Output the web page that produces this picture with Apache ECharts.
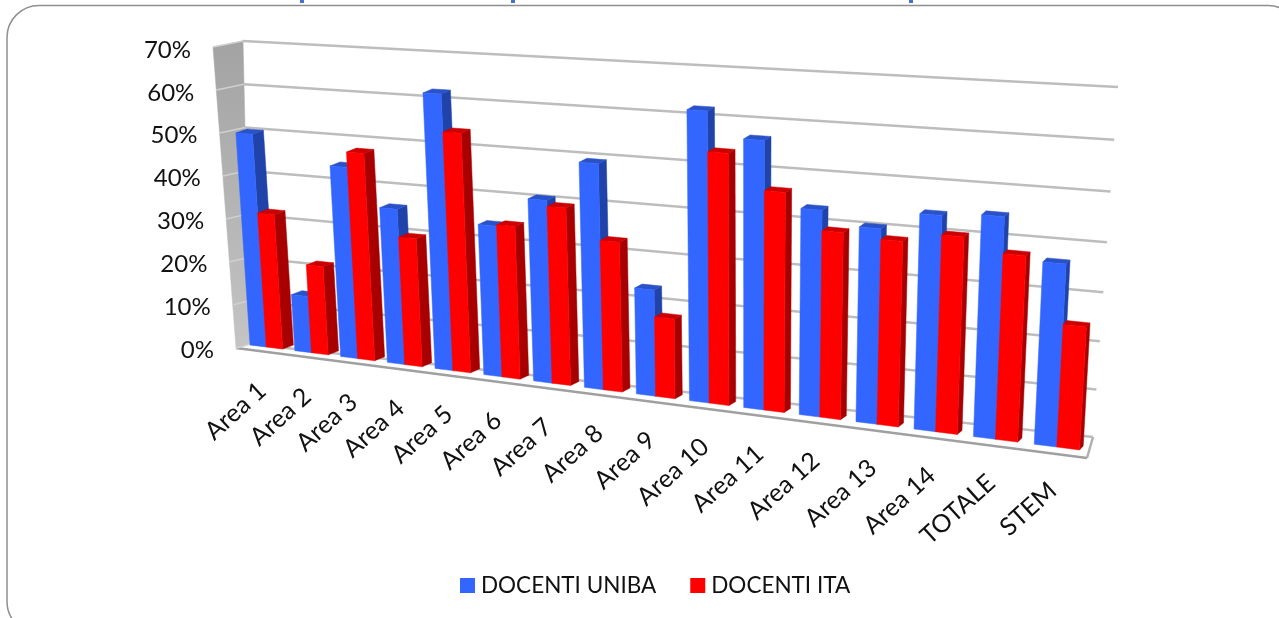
<!DOCTYPE html>
<html>
<head>
<meta charset="utf-8">
<style>
  html, body { margin: 0; padding: 0; background: #fff; }
  #main { width: 1279px; height: 618px; }
</style>
</head>
<body>
<div id="main"></div>
<script src="https://cdn.jsdelivr.net/npm/echarts@6/dist/echarts.min.js"></script>
<script>
var categories = ['Area 1', 'Area 2', 'Area 3', 'Area 4', 'Area 5', 'Area 6', 'Area 7', 'Area 8', 'Area 9',
    'Area 10', 'Area 11', 'Area 12', 'Area 13', 'Area 14', 'TOTALE', 'STEM'];
var docentiUniba = [49.7, 13.0, 43.8, 35.2, 62.1, 33.5, 40.2, 49.2, 22.9, 62.3, 56.9, 43.2, 40.4, 44.2, 45.0, 36.6];
var docentiIta = [31.3, 20.3, 47.3, 28.9, 53.6, 33.8, 38.9, 32.5, 17.1, 53.6, 46.3, 38.9, 38.2, 40.2, 37.5, 24.5];
var yTicks = [0, 10, 20, 30, 40, 50, 60, 70];

// hidden grid: the scales live here, then everything is warped on to the slanted planes
var GRID = {left: 100, top: 100, width: 800, height: 350};
var FONT = '"Lato", "Liberation Sans", sans-serif';

// planes of the fake 3d box
var barPlane = {bl: [244, 344.2], br: [1088, 451], tl: [224, 46], tr: [1108, 99]};
var backWall = {bl: [250, 344], br: [1093, 437], tl: [243, 41], tr: [1118, 87]};
var sideEdge = {bl: [236, 348], tl: [213, 47]};
var labelEdge = {bl: [214, 350], tl: [191, 50]};
var floorFront = [[236, 348], [1087, 458]];
var PERSP = 0.84;
var TOP_PERSP = 0.825;
var WALL_PERSP = 0.94;
var BAR_W = 0.365;

function lerp(a, b, t) {
    return [a[0] + (b[0] - a[0]) * t, a[1] + (b[1] - a[1]) * t];
}

function persp(u, k) {
    return k * u / (1 + (k - 1) * u);
}

// grid pixel -> normalised position
function norm(p) {
    return [(p[0] - GRID.left) / GRID.width, (GRID.top + GRID.height - p[1]) / GRID.height];
}

function warp(plane, u, v) {
    var bottom = lerp(plane.bl, plane.br, persp(u, PERSP));
    var top = lerp(plane.tl, plane.tr, persp(u, TOP_PERSP));
    return lerp(bottom, top, v);
}

function depthAt(u) {
    return [11 + (3.5 - 11) * persp(u, PERSP), -4];
}

function shift(p, d) {
    return [p[0] + d[0], p[1] + d[1]];
}

function poly(points, fill) {
    return {type: 'polygon', shape: {points: points}, style: {fill: fill, stroke: fill, lineWidth: 0.5}};
}

function line(a, b, color, width) {
    return {
        type: 'line',
        shape: {x1: a[0], y1: a[1], x2: b[0], y2: b[1]},
        style: {stroke: color, lineWidth: width}
    };
}

// blue bar left of the band centre, red one right of it
function barRenderer(offset, front, side, top) {
    return function (params, api) {
        var p = norm(api.coord([api.value(0), api.value(1)]));
        var band = api.size([1, 0])[0] / GRID.width;
        var uL = p[0] + offset * band;
        var uR = uL + BAR_W * band;
        var v = p[1];
        var d = depthAt((uL + uR) / 2);
        var a = warp(barPlane, uL, 0), b = warp(barPlane, uR, 0);
        var c = warp(barPlane, uR, v), e = warp(barPlane, uL, v);
        return {
            type: 'group',
            children: [
                poly([b, shift(b, d), shift(c, d), c], side),
                poly([e, c, shift(c, d), shift(e, d)], top),
                poly([a, b, c, e], front)
            ]
        };
    };
}

function renderWalls() {
    return {
        type: 'group',
        children: [
            poly([sideEdge.tl, backWall.tl, backWall.bl, sideEdge.bl], new echarts.graphic.LinearGradient(0, 0, 0, 1, [
                {offset: 0, color: '#a3a3a3'},
                {offset: 1, color: '#c4c4c4'}
            ])),
            line(floorFront[0], floorFront[1], '#a0a0a0', 2.5),
            line(floorFront[1], backWall.br, '#b0b0b0', 2.5),
            line(floorFront[0], backWall.bl, '#c8c8c8', 1.5)
        ]
    };
}

function renderGrid(params, api) {
    var v = norm(api.coord([0, api.value(1)]))[1];
    var a = lerp(backWall.bl, backWall.tl, v);
    var b = lerp(backWall.br, backWall.tr, persp(v, WALL_PERSP));
    var c = lerp(sideEdge.bl, sideEdge.tl, v);
    return {
        type: 'group',
        children: [
            line(c, a, '#d0d0d0', 1.5),
            line(a, b, '#bdbdbd', 2.5)
        ]
    };
}

function renderYLabel(params, api) {
    var v = norm(api.coord([0, api.value(1)]))[1];
    var p = lerp(labelEdge.bl, labelEdge.tl, v);
    return {
        type: 'text',
        x: p[0], y: p[1],
        style: {text: api.value(1) + '%', font: '24px ' + FONT, fill: '#111', align: 'right', verticalAlign: 'middle'}
    };
}

function renderXLabel(params, api) {
    var p = norm(api.coord([api.value(0), 0]));
    var base = warp(barPlane, p[0], 0);
    return {
        type: 'text',
        x: base[0] - 4, y: base[1] + 40,
        rotation: 42 * Math.PI / 180,
        style: {
            text: categories[params.dataIndex],
            font: '25px ' + FONT, fill: '#111', align: 'right', verticalAlign: 'middle'
        }
    };
}

function pairs(values) {
    return values.map(function (v, i) {
        return [i, v];
    });
}

function tickPairs() {
    return yTicks.map(function (v) {
        return [0, v];
    });
}

var chart = echarts.init(document.getElementById('main'));
chart.setOption({
    animation: false,
    backgroundColor: '#fff',
    graphic: [
        {type: 'rect', shape: {x: 7, y: 5.5, width: 1293, height: 628, r: 32}, style: {fill: 'none', stroke: '#8f8f8f', lineWidth: 1.5}, z: -5},
        {type: 'rect', shape: {x: 300, y: 0, width: 4, height: 3}, style: {fill: '#4472c4'}},
        {type: 'rect', shape: {x: 511, y: 0, width: 4, height: 3}, style: {fill: '#4472c4'}},
        {type: 'rect', shape: {x: 909, y: 0, width: 4, height: 3}, style: {fill: '#4472c4'}}
    ],
    legend: {
        data: ['DOCENTI UNIBA', 'DOCENTI ITA'],
        left: 455, top: 569,
        itemWidth: 15, itemHeight: 15, itemGap: 34,
        icon: 'rect',
        textStyle: {fontFamily: FONT, fontSize: 22.5, color: '#111', padding: [2, 0, 0, 1]}
    },
    grid: {left: GRID.left, top: GRID.top, width: GRID.width, height: GRID.height},
    xAxis: {type: 'category', data: categories, show: false},
    yAxis: {type: 'value', min: 0, max: 70, interval: 10, show: false},
    series: [
        {type: 'custom', name: 'walls', silent: true, clip: false, z: 1, data: [[0, 0]], renderItem: renderWalls},
        {type: 'custom', name: 'grid', silent: true, clip: false, z: 2, data: tickPairs(), renderItem: renderGrid},
        {type: 'custom', name: 'ylabels', silent: true, clip: false, z: 2, data: tickPairs(), renderItem: renderYLabel},
        {type: 'custom', name: 'xlabels', silent: true, clip: false, z: 2, data: pairs(categories.map(function () { return 0; })), renderItem: renderXLabel},
        {
            type: 'custom', name: 'DOCENTI UNIBA', silent: true, clip: false, z: 3,
            itemStyle: {color: '#3366ff'},
            data: pairs(docentiUniba),
            renderItem: barRenderer(-BAR_W, '#3366ff', '#1f43a8', '#2a52c8')
        },
        {
            type: 'custom', name: 'DOCENTI ITA', silent: true, clip: false, z: 4,
            itemStyle: {color: '#ff0000'},
            data: pairs(docentiIta),
            renderItem: barRenderer(0, '#ff0000', '#a80000', '#cc0000')
        }
    ]
});
</script>
</body>
</html>
